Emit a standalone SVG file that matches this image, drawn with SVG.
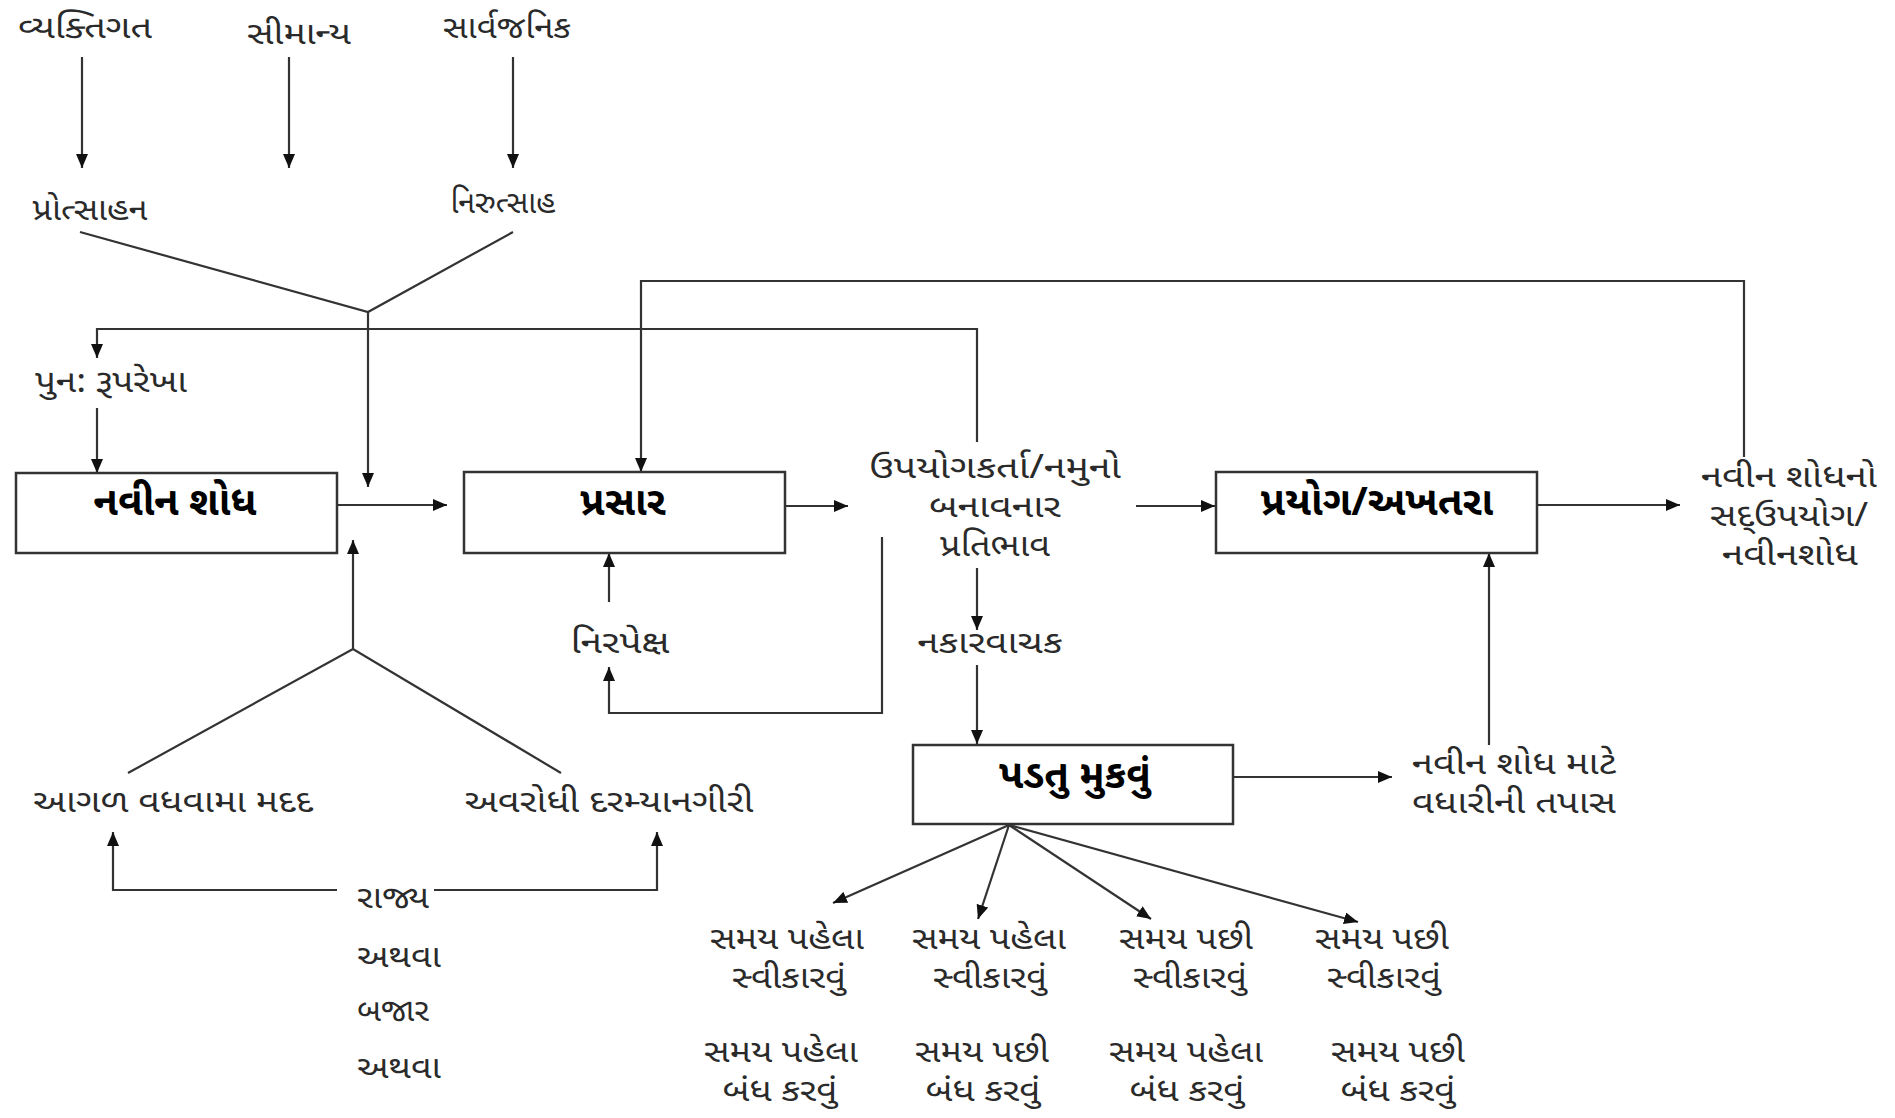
<svg xmlns="http://www.w3.org/2000/svg" width="1895" height="1118" viewBox="0 0 1895 1118">
<defs>
<marker id="ah" viewBox="0 0 14 12" refX="14" refY="6" markerWidth="14" markerHeight="12" markerUnits="userSpaceOnUse" orient="auto">
<path d="M0,0 L14,6 L0,12 Z" fill="#111"/>
</marker>
<style>
.t{font-family:"Noto Sans Gujarati","Lohit Gujarati","Noto Sans",sans-serif;font-size:32px;fill:#2a2a2a;text-anchor:middle}
.l{text-anchor:start}
.b{font-weight:bold;font-size:40px;fill:#000}
.box{fill:#fff;stroke:#333;stroke-width:2.5}
.c{fill:none;stroke:#333;stroke-width:2.2}
.a{marker-end:url(#ah)}
</style>
</defs>
<rect width="1895" height="1118" fill="#fff"/>
<g id="connectors">
<line class="c a" x1="82" y1="57" x2="82" y2="168"/>
<line class="c a" x1="289" y1="57" x2="289" y2="168"/>
<line class="c a" x1="513" y1="57" x2="513" y2="168"/>
<polyline class="c" points="80,232 368,312 513,232"/>
<line class="c a" x1="368" y1="312" x2="368" y2="487"/>
<polyline class="c a" points="977,442 977,329 97,329 97,358"/>
<line class="c a" x1="97" y1="408" x2="97" y2="473"/>
<line class="c a" x1="337" y1="505" x2="447" y2="505"/>
<line class="c a" x1="353" y1="649" x2="353" y2="540"/>
<polyline class="c" points="128,773 353,649 561,773"/>
<polyline class="c a" points="337,890 113,890 113,832"/>
<polyline class="c a" points="434,890 657,890 657,832"/>
<polyline class="c a" points="1744,457 1744,281 641,281 641,472"/>
<line class="c a" x1="785" y1="506" x2="848" y2="506"/>
<line class="c a" x1="1136" y1="506" x2="1215" y2="506"/>
<line class="c a" x1="1537" y1="505" x2="1680" y2="505"/>
<line class="c a" x1="609" y1="602" x2="609" y2="553"/>
<polyline class="c a" points="882,537 882,713 609,713 609,667"/>
<line class="c a" x1="977" y1="568" x2="977" y2="630"/>
<line class="c a" x1="977" y1="665" x2="977" y2="744"/>
<line class="c a" x1="1233" y1="777" x2="1392" y2="777"/>
<line class="c a" x1="1489" y1="745" x2="1489" y2="553"/>
<line class="c a" x1="1009" y1="825" x2="833" y2="903"/>
<line class="c a" x1="1009" y1="825" x2="978" y2="919"/>
<line class="c a" x1="1009" y1="825" x2="1151" y2="919"/>
<line class="c a" x1="1009" y1="825" x2="1358" y2="922"/>
</g>
<g id="n-vyaktigat"><text class="t" x="85" y="38" textLength="134" lengthAdjust="spacingAndGlyphs">વ્યક્તિગત</text></g>
<g id="n-simanya"><text class="t" x="299" y="44" textLength="104" lengthAdjust="spacingAndGlyphs">સીમાન્ય</text></g>
<g id="n-sarvajanik"><text class="t" x="507" y="38" textLength="128" lengthAdjust="spacingAndGlyphs">સાર્વજનિક</text></g>
<g id="n-protsahan"><text class="t" x="90" y="220" textLength="115" lengthAdjust="spacingAndGlyphs">પ્રોત્સાહન</text></g>
<g id="n-nirutsah"><text class="t" x="503" y="213" textLength="105" lengthAdjust="spacingAndGlyphs">નિરુત્સાહ</text></g>
<g id="n-punrupa"><text class="t" x="111" y="392" textLength="152" lengthAdjust="spacingAndGlyphs">પુન: રૂપરેખા</text></g>
<g id="n-navin"><rect class="box" x="16" y="473" width="321" height="80"/><text class="t b" x="175" y="515">નવીન શોધ</text></g>
<g id="n-prasar"><rect class="box" x="464" y="472" width="321" height="81"/><text class="t b" x="623" y="515">પ્રસાર</text></g>
<g id="n-upyog"><text class="t" x="995" y="478" textLength="252" lengthAdjust="spacingAndGlyphs">ઉપયોગકર્તા/નમુનો</text><text class="t" x="995" y="517" textLength="132" lengthAdjust="spacingAndGlyphs">બનાવનાર</text><text class="t" x="995" y="556" textLength="110" lengthAdjust="spacingAndGlyphs">પ્રતિભાવ</text></g>
<g id="n-prayog"><rect class="box" x="1216" y="472" width="321" height="81"/><text class="t b" x="1377" y="515">પ્રયોગ/અખતરા</text></g>
<g id="n-sadupyog"><text class="t" x="1789" y="487" textLength="176" lengthAdjust="spacingAndGlyphs">નવીન શોધનો</text><text class="t" x="1789" y="526" textLength="158" lengthAdjust="spacingAndGlyphs">સદ્ઉપયોગ/</text><text class="t" x="1790" y="565" textLength="136" lengthAdjust="spacingAndGlyphs">નવીનશોધ</text></g>
<g id="n-nirpeksh"><text class="t" x="620" y="653" textLength="99" lengthAdjust="spacingAndGlyphs">નિરપેક્ષ</text></g>
<g id="n-nakar"><text class="t" x="990" y="653" textLength="145" lengthAdjust="spacingAndGlyphs">નકારવાચક</text></g>
<g id="n-padtu"><rect class="box" x="913" y="745" width="320" height="79"/><text class="t b" x="1075" y="788">પડતુ મુકવું</text></g>
<g id="n-tapas"><text class="t" x="1514" y="774" textLength="204" lengthAdjust="spacingAndGlyphs">નવીન શોધ માટે</text><text class="t" x="1514" y="813" textLength="204" lengthAdjust="spacingAndGlyphs">વધારીની તપાસ</text></g>
<g id="n-aagal"><text class="t" x="173" y="812" textLength="280" lengthAdjust="spacingAndGlyphs">આગળ વધવામા મદદ</text></g>
<g id="n-avrodhi"><text class="t" x="609" y="812" textLength="289" lengthAdjust="spacingAndGlyphs">અવરોધી દરમ્યાનગીરી</text></g>
<g id="n-rajya"><text class="t l" x="357" y="908" textLength="72" lengthAdjust="spacingAndGlyphs">રાજ્ય</text><text class="t l" x="357" y="967" textLength="84" lengthAdjust="spacingAndGlyphs">અથવા</text><text class="t l" x="357" y="1021" textLength="72" lengthAdjust="spacingAndGlyphs">બજાર</text><text class="t l" x="357" y="1078" textLength="84" lengthAdjust="spacingAndGlyphs">અથવા</text></g>
<g id="n-o1"><text class="t" x="787" y="949" textLength="154" lengthAdjust="spacingAndGlyphs">સમય પહેલા</text><text class="t" x="789" y="988" textLength="114" lengthAdjust="spacingAndGlyphs">સ્વીકારવું</text></g>
<g id="n-o2"><text class="t" x="989" y="949" textLength="154" lengthAdjust="spacingAndGlyphs">સમય પહેલા</text><text class="t" x="990" y="988" textLength="114" lengthAdjust="spacingAndGlyphs">સ્વીકારવું</text></g>
<g id="n-o3"><text class="t" x="1186" y="949" textLength="134" lengthAdjust="spacingAndGlyphs">સમય પછી</text><text class="t" x="1190" y="988" textLength="114" lengthAdjust="spacingAndGlyphs">સ્વીકારવું</text></g>
<g id="n-o4"><text class="t" x="1382" y="949" textLength="134" lengthAdjust="spacingAndGlyphs">સમય પછી</text><text class="t" x="1384" y="988" textLength="114" lengthAdjust="spacingAndGlyphs">સ્વીકારવું</text></g>
<g id="n-o5"><text class="t" x="781" y="1062" textLength="154" lengthAdjust="spacingAndGlyphs">સમય પહેલા</text><text class="t" x="780" y="1101" textLength="115" lengthAdjust="spacingAndGlyphs">બંધ કરવું</text></g>
<g id="n-o6"><text class="t" x="982" y="1062" textLength="134" lengthAdjust="spacingAndGlyphs">સમય પછી</text><text class="t" x="983" y="1101" textLength="115" lengthAdjust="spacingAndGlyphs">બંધ કરવું</text></g>
<g id="n-o7"><text class="t" x="1186" y="1062" textLength="154" lengthAdjust="spacingAndGlyphs">સમય પહેલા</text><text class="t" x="1187" y="1101" textLength="115" lengthAdjust="spacingAndGlyphs">બંધ કરવું</text></g>
<g id="n-o8"><text class="t" x="1398" y="1062" textLength="134" lengthAdjust="spacingAndGlyphs">સમય પછી</text><text class="t" x="1398" y="1101" textLength="115" lengthAdjust="spacingAndGlyphs">બંધ કરવું</text></g>
</svg>
